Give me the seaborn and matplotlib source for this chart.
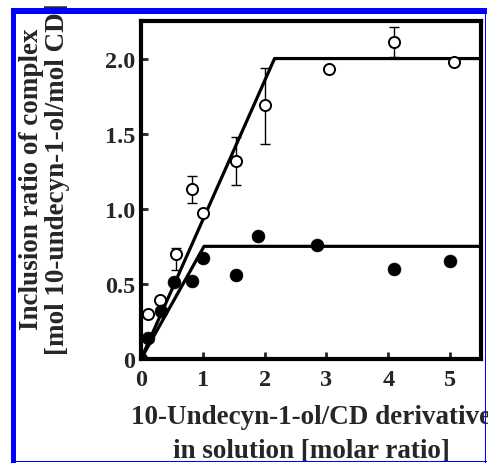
import numpy as np
import pandas as pd
import matplotlib
matplotlib.use("Agg")
import matplotlib.pyplot as plt
import seaborn as sns
from matplotlib.patches import Rectangle

# ---- data ----
open_x = [0.12, 0.30, 0.57, 0.83, 1.00, 1.53, 2.00, 3.04, 4.10, 5.06]
open_y = [0.30, 0.39, 0.70, 1.13, 0.97, 1.32, 1.69, 1.93, 2.11, 1.98]
open_err_lo = [0, 0, 0.11, 0.09, 0, 0.16, 0.26, 0, 0.10, 0]
open_err_hi = [0, 0, 0.04, 0.09, 0, 0.16, 0.25, 0, 0.10, 0]

filled_x = [0.00, 0.12, 0.32, 0.53, 0.83, 1.00, 1.53, 1.90, 2.85, 4.09, 5.00]
filled_y = [0.00, 0.14, 0.32, 0.51, 0.52, 0.67, 0.56, 0.82, 0.76, 0.60, 0.65]

fit_open_x = [0.0, 2.16, 5.5]
fit_open_y = [0.0, 2.00, 2.00]
fit_filled_x = [0.0, 1.02, 5.5]
fit_filled_y = [0.0, 0.75, 0.75]

xticks = [0, 1, 2, 3, 4, 5]
yticks = [0, 0.5, 1.0, 1.5, 2.0]
ytick_labels = ["0", "0.5", "1.0", "1.5", "2.0"]

xlabel = "10-Undecyn-1-ol/CD derivative\nin solution [molar ratio]"
ylabel = "Inclusion ratio of complex\n[mol 10-undecyn-1-ol/mol CD]"

# ---- style ----
sns.set_style("ticks")
plt.rcParams["font.family"] = ["Liberation Serif", "DejaVu Serif"]
plt.rcParams["font.weight"] = "bold"

W, H = 489, 464
fig = plt.figure(figsize=(W / 100, H / 100), dpi=100)
ax = fig.add_axes([141 / W, 1 - 360 / H, (481 - 141) / W, (360 - 22) / H])

df_open = pd.DataFrame({"x": open_x, "y": open_y})
df_filled = pd.DataFrame({"x": filled_x, "y": filled_y})
df_fo = pd.DataFrame({"x": fit_open_x, "y": fit_open_y})
df_ff = pd.DataFrame({"x": fit_filled_x, "y": fit_filled_y})

sns.lineplot(data=df_fo, x="x", y="y", ax=ax, color="black", lw=2.3,
             sort=False, estimator=None, zorder=2)
sns.lineplot(data=df_ff, x="x", y="y", ax=ax, color="black", lw=2.3,
             sort=False, estimator=None, zorder=2)

# error bars on open circles
err_idx = [i for i in range(len(open_x)) if open_err_lo[i] > 0 or open_err_hi[i] > 0]
ax.errorbar([open_x[i] for i in err_idx], [open_y[i] for i in err_idx],
            yerr=[[open_err_lo[i] for i in err_idx], [open_err_hi[i] for i in err_idx]],
            fmt="none", ecolor="black", elinewidth=1.0, capsize=3.6, capthick=1.0,
            zorder=3)

sns.scatterplot(data=df_open, x="x", y="y", ax=ax, marker="o", s=64,
                facecolor="white", edgecolor="black", linewidth=1.4, zorder=4)
sns.scatterplot(data=df_filled, x="x", y="y", ax=ax, marker="o", s=85,
                color="black", edgecolor="black", linewidth=0.5, zorder=5)

ax.set_xlim(0, 5.5)
ax.set_ylim(0, 2.25)
ax.set_xticks(xticks)
ax.set_xticklabels([str(v) for v in xticks])
ax.set_yticks(yticks)
ax.set_yticklabels(ytick_labels)
ax.tick_params(direction="in", length=5, width=2, labelsize=17.5)
ax.tick_params(axis="y", pad=4)
ax.tick_params(axis="x", pad=7)
for lab in ax.get_xticklabels() + ax.get_yticklabels():
    lab.set_fontweight("bold")
for sp in ax.spines.values():
    sp.set_visible(True)
    sp.set_linewidth(3)
    sp.set_color("black")

ax.set_xlabel(xlabel, fontsize=19.5, fontweight="bold", labelpad=10, linespacing=1.5)
ax.set_ylabel(ylabel, fontsize=19.5, fontweight="bold", labelpad=25, linespacing=1.05,
              y=0.535)

# ---- blue frame around the figure ----
def px_rect(x0, y0, x1, y1):
    return Rectangle((x0 / W, 1 - y1 / H), (x1 - x0) / W, (y1 - y0) / H,
                     transform=fig.transFigure, facecolor="#0000ff",
                     edgecolor="none", zorder=20)

fig.add_artist(px_rect(11, 9, 487, 14.5))   # top
fig.add_artist(px_rect(11, 9, 16, 464))     # left
fig.add_artist(px_rect(485, 9, 486.5, 464)) # right
fig.add_artist(px_rect(11, 461.5, 487, 463))  # bottom

fig.savefig("out.png", dpi=100)
